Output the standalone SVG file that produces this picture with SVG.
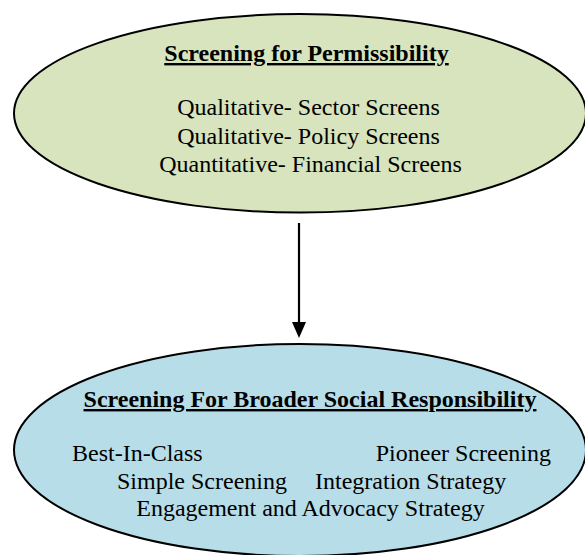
<svg xmlns="http://www.w3.org/2000/svg" width="585" height="555" viewBox="0 0 585 555">
<style>
.node-shape{stroke:#000;stroke-width:2}
.t{font-family:'Liberation Serif',Tinos,'Times New Roman',Times,serif;font-size:24px;fill:#000}
.h{font-weight:bold;text-decoration:underline}
.c{text-anchor:middle}
.conn{stroke:#000;stroke-width:2.2;fill:none}
</style>
<rect width="585" height="555" fill="#fff"/>
<g id="node-permissibility">
<ellipse class="node-shape" cx="300" cy="113.3" rx="286" ry="99.3" fill="#d7e4bd"/>
<text class="t h c" x="306.5" y="61">Screening for Permissibility</text>
<text class="t c" x="308.5" y="115">Qualitative- Sector Screens</text>
<text class="t c" x="308.5" y="143.5">Qualitative- Policy Screens</text>
<text class="t c" x="310.5" y="172">Quantitative- Financial Screens</text>
</g>
<g id="node-social">
<ellipse class="node-shape" cx="300" cy="450" rx="286" ry="106" fill="#b7dde8"/>
<text class="t h c" x="310" y="407">Screening For Broader Social Responsibility</text>
<text class="t" x="72" y="461">Best-In-Class</text>
<text class="t" x="551" y="461" text-anchor="end">Pioneer Screening</text>
<text class="t" x="117" y="489">Simple Screening</text>
<text class="t" x="315" y="489">Integration Strategy</text>
<text class="t c" x="310.5" y="516">Engagement and Advocacy Strategy</text>
</g>
<g id="connectors">
<line class="conn" x1="299" y1="223" x2="299" y2="323"/>
<path d="M292,322 L306,322 L299,338 Z" fill="#000"/>
</g>
</svg>
